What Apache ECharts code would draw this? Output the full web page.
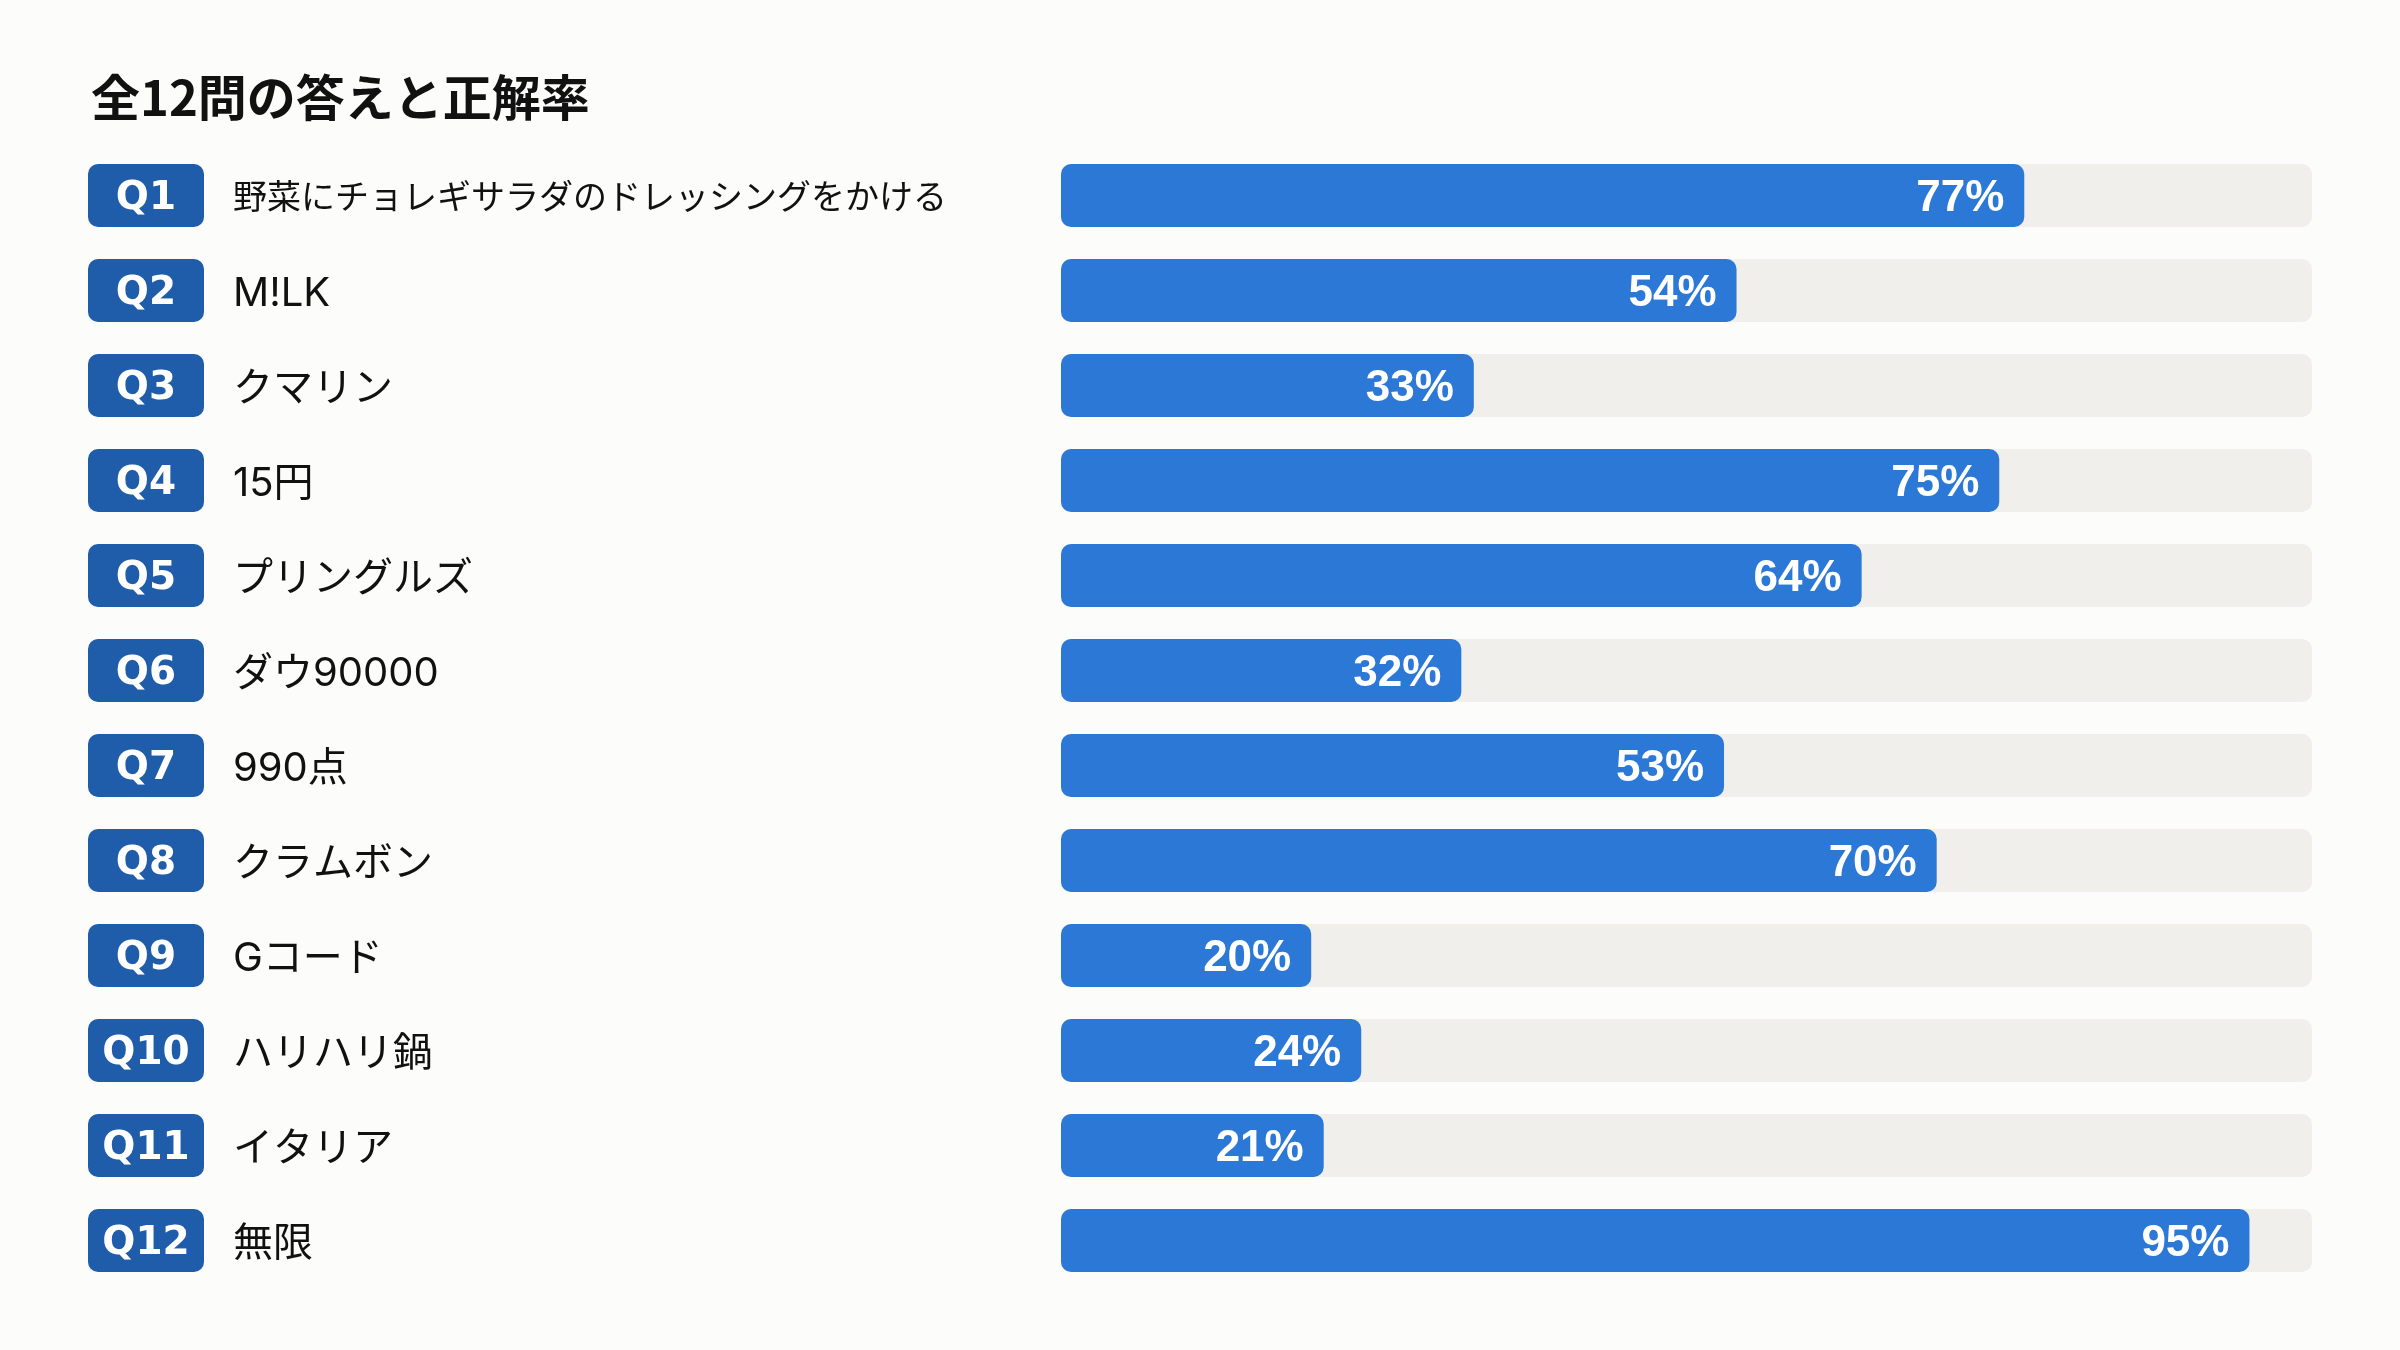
<!doctype html>
<html lang="ja">
<head>
    <meta charset="UTF-8">
    <title>全12問の答えと正解率</title>
    <style>
        html, body {
            margin: 0;
            padding: 0;
            background: #fcfcfb;
        }
        #main {
            width: 2400px;
            height: 1350px;
        }
    </style>
</head>
<body>
<div id="main"></div>
<script src="https://cdn.jsdelivr.net/npm/echarts@6/dist/echarts.min.js"></script>
<script>
    // 問題番号・答え・正解率
    var questions = ['Q1', 'Q2', 'Q3', 'Q4', 'Q5', 'Q6', 'Q7', 'Q8', 'Q9', 'Q10', 'Q11', 'Q12'];
    var answers = [
        '野菜にチョレギサラダのドレッシングをかける',
        'M!LK',
        'クマリン',
        '15円',
        'プリングルズ',
        'ダウ90000',
        '990点',
        'クラムボン',
        'Gコード',
        'ハリハリ鍋',
        'イタリア',
        '無限'
    ];
    var rates = [77, 54, 33, 75, 64, 32, 53, 70, 20, 24, 21, 95];

    var jpFont = "'Noto Sans CJK JP', 'Noto Sans', sans-serif";
    var textFont = "Inter, 'Noto Sans CJK JP', sans-serif";

    var myChart = echarts.init(document.getElementById('main'));

    var option = {
        backgroundColor: '#fcfcfb',
        animation: false,
        title: {
            text: '全12問の答えと正解率',
            left: 86,
            top: 68,
            textStyle: {
                fontFamily: jpFont,
                fontSize: 49,
                fontWeight: 'bold',
                color: '#111'
            }
        },
        grid: {
            left: 1061,
            right: 88,
            top: 148,
            height: 1140
        },
        xAxis: {
            type: 'value',
            min: 0,
            max: 100,
            show: false
        },
        yAxis: {
            type: 'category',
            data: questions,
            inverse: true,
            axisLine: {show: false},
            axisTick: {show: false},
            splitLine: {show: false},
            axisLabel: {
                align: 'left',
                margin: 973,
                formatter: function (value, index) {
                    var key = answers[index].length > 15 ? 'as' : 'a';
                    return '{q|' + value + '}{' + key + '|' + answers[index] + '}';
                },
                rich: {
                    q: {
                        width: 116,
                        height: 57,
                        lineHeight: 57,
                        padding: [6, 0, 0, 0],
                        align: 'center',
                        verticalAlign: 'middle',
                        backgroundColor: '#1f5ca9',
                        borderRadius: 10,
                        color: '#fff',
                        fontFamily: "'DejaVu Sans', sans-serif",
                        fontSize: 39,
                        fontWeight: 'bold'
                    },
                    a: {
                        padding: [6, 0, 0, 29],
                        verticalAlign: 'middle',
                        color: '#111',
                        fontFamily: textFont,
                        fontSize: 40
                    },
                    as: {
                        padding: [6, 0, 0, 29],
                        verticalAlign: 'middle',
                        color: '#111',
                        fontFamily: textFont,
                        fontSize: 34
                    }
                }
            }
        },
        series: [{
            type: 'bar',
            data: rates,
            barWidth: 63,
            showBackground: true,
            backgroundStyle: {
                color: '#f0efec',
                borderRadius: 10
            },
            itemStyle: {
                color: '#2b78d6',
                borderRadius: 10
            },
            label: {
                show: true,
                position: 'insideRight',
                distance: 20,
                offset: [0, 3],
                formatter: '{c}%',
                color: '#fff',
                fontFamily: "'Liberation Sans', Arial, sans-serif",
                fontSize: 44,
                fontWeight: 'bold'
            }
        }]
    };

    myChart.setOption(option);
</script>
</body>
</html>
